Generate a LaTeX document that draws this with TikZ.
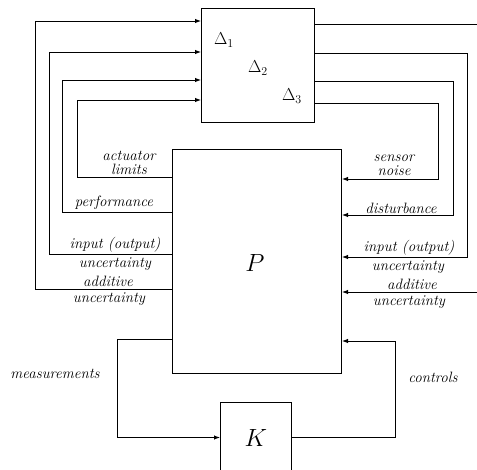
\documentclass[tikz,border=0pt]{standalone}
\usetikzlibrary{arrows.meta}
\begin{document}
\begin{tikzpicture}[x=1pt,y=-1pt,
  line width=1pt,
  arr/.style={-{Latex[length=6pt,width=4.5pt]}},
  blk/.style={draw,rectangle,inner sep=0pt,anchor=north west},
  lbl/.style={inner sep=0pt,align=center,font=\fontsize{15}{14}\selectfont\itshape},
  big/.style={inner sep=0pt,font=\fontsize{26}{28}\selectfont}]
\useasboundingbox (0,0) rectangle (477,469);
\clip (0,0) rectangle (477,469);
% blocks
\node[blk,minimum width=113pt,minimum height=114pt] (D) at (201,8) {};
\node[blk,minimum width=169pt,minimum height=224pt] (P) at (172,149) {};
\node[blk,minimum width=71pt,minimum height=70pt,font=\fontsize{26}{28}\selectfont] (K) at (220,402) {$K$};
\node[big] (Plbl) at (255,263) {$P$};
\node[inner sep=0pt,font=\LARGE] (d1) at (224,40) {$\Delta_1$};
\node[inner sep=0pt,font=\LARGE] (d2) at (258,68) {$\Delta_2$};
\node[inner sep=0pt,font=\LARGE] (d3) at (292,96) {$\Delta_3$};
% left loops (P -> Delta)
\draw[arr] (P.west |- 0,177) -- (77,177) -- (77,100) -- (D.west |- 0,100);
\draw[arr] (P.west |- 0,212) -- (62,212) -- (62,80) -- (D.west |- 0,80);
\draw[arr] (P.west |- 0,254) -- (49,254) -- (49,52) -- (D.west |- 0,52);
\draw[arr] (P.west |- 0,289) -- (35,289) -- (35,21) -- (D.west |- 0,21);
% right loops (Delta -> P)
\coordinate (top) at (480,24);
\coordinate (addin) at (480,292);
\draw (D.east |- 0,24) -- (top);
\draw[arr] (D.east |- 0,53) -- (467,53) -- (467,257) -- (P.east |- 0,257);
\draw[arr] (D.east |- 0,81) -- (453,81) -- (453,215) -- (P.east |- 0,215);
\draw[arr] (D.east |- 0,103) -- (438,103) -- (438,179) -- (P.east |- 0,179);
\draw[arr] (addin) -- (P.east |- 0,292);
% controller loop
\draw[arr] (P.west |- 0,339) -- (117,339) |- (K.west);
\draw[arr] (K.east) -| (395,341) -- (P.east |- 0,341);
% left labels
\node[lbl] (l1) at (129,163) {actuator\\limits};
\node[lbl] (l2) at (114,203) {performance};
\node[lbl] (l3) at (115,245) {input (output)};
\node[lbl] (l3b) at (115,264) {uncertainty};
\node[lbl] (l4) at (108,281.5) {additive};
\node[lbl] (l4b) at (109,299.5) {uncertainty};
% right labels
\node[lbl] (r1) at (394,165) {sensor\\noise};
\node[lbl] (r2) at (401,208) {disturbance};
\node[lbl] (r3) at (409,248) {input (output)};
\node[lbl] (r3b) at (408,267) {uncertainty};
\node[lbl] (r4) at (412,284.5) {additive};
\node[lbl] (r4b) at (409,302.5) {uncertainty};
% bottom labels
\node[lbl] (m) at (55,374) {measurements};
\node[lbl] (c) at (433,377) {controls};
\end{tikzpicture}
\end{document}
